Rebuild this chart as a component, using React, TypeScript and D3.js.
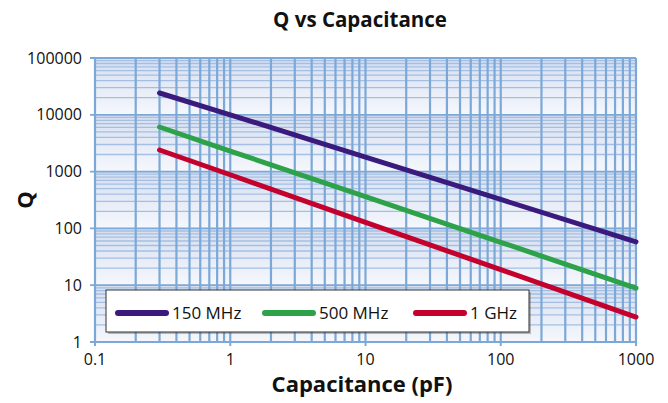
import React from "react";
import * as d3 from "d3";

const capacitance = [0.3, 1, 10, 100, 1000];
const q150MHz = [24200, 10000, 1800, 323, 58];
const q500MHz = [6100, 2300, 363, 57, 8.9];
const q1GHz = [2400, 880, 128, 18.8, 2.75];
const seriesNames = ["150 MHz", "500 MHz", "1 GHz"];
const seriesColors = ["#3a1a7c", "#2ea249", "#c4002c"];
const xTicks = [0.1, 1, 10, 100, 1000];
const yTicks = [1, 10, 100, 1000, 10000, 100000];

const W = 668, H = 403;
const L = 95, R = 636, T = 58, B = 342;
const FONT = "'Open Sans', 'Noto Sans', sans-serif";

export default function App() {
  const x = d3.scaleLog().domain([0.1, 1000]).range([L, R]);
  const y = d3.scaleLog().domain([1, 100000]).range([B, T]);
  const line = d3.line<[number, number]>().x(d => x(d[0])).y(d => y(d[1]));
  const series = [q150MHz, q500MHz, q1GHz];

  const minorX: number[] = [];
  for (let d = 0.1; d < 1000; d *= 10) for (let k = 1; k < 10; k++) minorX.push(+(d * k).toPrecision(3));
  minorX.push(1000);
  const minorY: number[] = [];
  for (let d = 1; d < 100000; d *= 10) for (let k = 2; k < 10; k++) minorY.push(d * k);

  const bands = yTicks.slice(0, -1);

  return (
    <svg width={W} height={H} style={{ display: "block", position: "absolute", left: 0, top: 0 }} fontFamily={FONT}>
      <defs>
        <linearGradient id="band" x1="0" y1="0" x2="0" y2="1">
          <stop offset="0" stopColor="#d6dff0" />
          <stop offset="1" stopColor="#f5f7fc" />
        </linearGradient>
      </defs>
      <text x={360} y={27} textAnchor="middle" fontSize={20.5} fontWeight="bold" fill="#111">Q vs Capacitance</text>
      {bands.map(b => (
        <rect key={b} x={L} y={y(b * 10)} width={R - L} height={y(b) - y(b * 10)} fill="url(#band)" />
      ))}
      {minorY.map(v => (
        <line key={"hy" + v} x1={L} x2={R} y1={y(v)} y2={y(v)} stroke="#a4bfe3" strokeWidth={1.3} />
      ))}
      {minorX.map(v => (
        <line key={"vx" + v} x1={x(v)} x2={x(v)} y1={T} y2={B} stroke="#7ca8d8" strokeWidth={2.2} />
      ))}
      {yTicks.map(v => (
        <line key={"my" + v} x1={L - 5} x2={R} y1={y(v)} y2={y(v)} stroke="#7ca8d8" strokeWidth={1.8} />
      ))}
      {xTicks.map(v => (
        <line key={"tx" + v} x1={x(v)} x2={x(v)} y1={B} y2={B + 4} stroke="#7ca8d8" strokeWidth={2} />
      ))}
      {series.map((s, i) => (
        <path key={i} d={line(capacitance.map((c, j) => [c, s[j]]) as [number, number][]) || ""}
          fill="none" stroke={seriesColors[i]} strokeWidth={5} strokeLinecap="round" />
      ))}
      {yTicks.map(v => (
        <text key={"yl" + v} x={L - 13} y={y(v) + 5.5} textAnchor="end" fontSize={16} fill="#111">{v}</text>
      ))}
      {xTicks.map(v => (
        <text key={"xl" + v} x={x(v)} y={B + 23} textAnchor="middle" fontSize={16} fill="#111">{v}</text>
      ))}
      <text x={362} y={392} textAnchor="middle" fontSize={22} fontWeight="bold" fill="#111">Capacitance (pF)</text>
      <text transform={`translate(33,200) rotate(-90)`} textAnchor="middle" fontSize={22} fontWeight="bold" fill="#111">Q</text>
      <rect x={108} y={292} width={423} height={42} fill="#444" opacity={0.35} />
      <rect x={106} y={290} width={423} height={42} fill="#fff" stroke="#333" strokeWidth={1} />
      {seriesNames.map((n, i) => {
        const lx = [118, 265, 416][i];
        return (
          <g key={n}>
            <line x1={lx} x2={lx + 48} y1={313} y2={313} stroke={seriesColors[i]} strokeWidth={6} strokeLinecap="round" />
            <text x={lx + 54} y={319} fontSize={17} fill="#111">{n}</text>
          </g>
        );
      })}
    </svg>
  );
}
